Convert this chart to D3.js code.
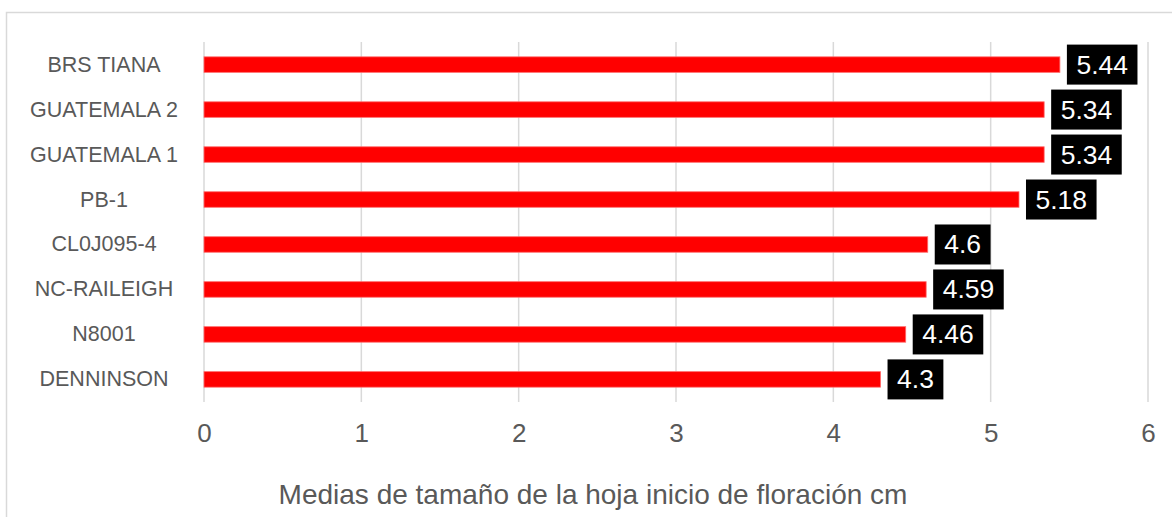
<!DOCTYPE html>
<html><head><meta charset="utf-8">
<script src="https://cdn.jsdelivr.net/npm/d3@7/dist/d3.min.js"></script>
<style>
html,body{margin:0;padding:0;background:#fff;}
svg{display:block;font-family:"Liberation Sans",Arial,sans-serif;}
</style></head>
<body><svg id="c" width="1172" height="517"></svg>
<script>
const categories = ["BRS TIANA","GUATEMALA 2","GUATEMALA 1","PB-1","CL0J095-4","NC-RAILEIGH","N8001","DENNINSON"];
const values = [5.44,5.34,5.34,5.18,4.6,4.59,4.46,4.3];
const xTicks = [0,1,2,3,4,5,6];
const axisTitle = "Medias de tamaño de la hoja inicio de floración cm";

const svg = d3.select("#c");
const W = 1172, H = 517;
const m = {left:204, right:24, top:42, bottom:115};

svg.append("rect").attr("x",6.5).attr("y",12.5).attr("width",W).attr("height",H)
  .attr("fill","#fff").attr("stroke","#d9d9d9").attr("stroke-width",1.5);

const x = d3.scaleLinear().domain([0,6]).range([m.left, W - m.right]);
const y = d3.scaleBand().domain(categories).range([m.top, H - m.bottom])
  .paddingInner(0.655).paddingOuter(0.33);

// gridlines
svg.append("g").selectAll("line").data(xTicks).join("line")
  .attr("x1",d=>x(d)).attr("x2",d=>x(d))
  .attr("y1",m.top).attr("y2",H-m.bottom)
  .attr("stroke","#d9d9d9").attr("stroke-width",1.5);

// x axis tick labels
const xAxis = d3.axisBottom(x).tickValues(xTicks).tickSize(0).tickPadding(0).tickFormat(d3.format("d"));
const gx = svg.append("g").attr("transform",`translate(0,${H-m.bottom})`).call(xAxis);
gx.select(".domain").remove();
gx.selectAll("text").attr("font-size",26).attr("fill","#595959")
  .attr("font-family","'Liberation Sans',Arial,sans-serif").attr("dy","1.55em");

// category labels
svg.append("g").selectAll("text").data(categories).join("text")
  .attr("x",104).attr("y",d=>y(d)+y.bandwidth()/2)
  .attr("text-anchor","middle").attr("dominant-baseline","central")
  .attr("font-size",21.5).attr("fill","#595959").text(d=>d);

// bars
svg.append("g").selectAll("rect").data(values).join("rect")
  .attr("x",x(0)).attr("y",(d,i)=>y(categories[i]))
  .attr("width",d=>x(d)-x(0)).attr("height",y.bandwidth())
  .attr("fill","#ff0000").attr("stroke","#ff6b6b").attr("stroke-width",0.8);

// data labels
const lab = svg.append("g").selectAll("g").data(values).join("g")
  .attr("transform",(d,i)=>`translate(${x(d)+7},${y(categories[i])+y.bandwidth()/2})`);
lab.each(function(d){
  const g = d3.select(this);
  const t = g.append("text").attr("font-size",26.5).attr("fill","#fff")
    .attr("dominant-baseline","central").attr("x",9.5).text(String(d));
  const w = t.node().getComputedTextLength();
  g.insert("rect","text").attr("x",0).attr("y",-20).attr("width",w+19).attr("height",40).attr("fill","#000");
});

// axis title
svg.append("text").attr("x",593).attr("y",494)
  .attr("text-anchor","middle").attr("dominant-baseline","central")
  .attr("font-size",28).attr("fill","#595959").text(axisTitle);
</script></body></html>
